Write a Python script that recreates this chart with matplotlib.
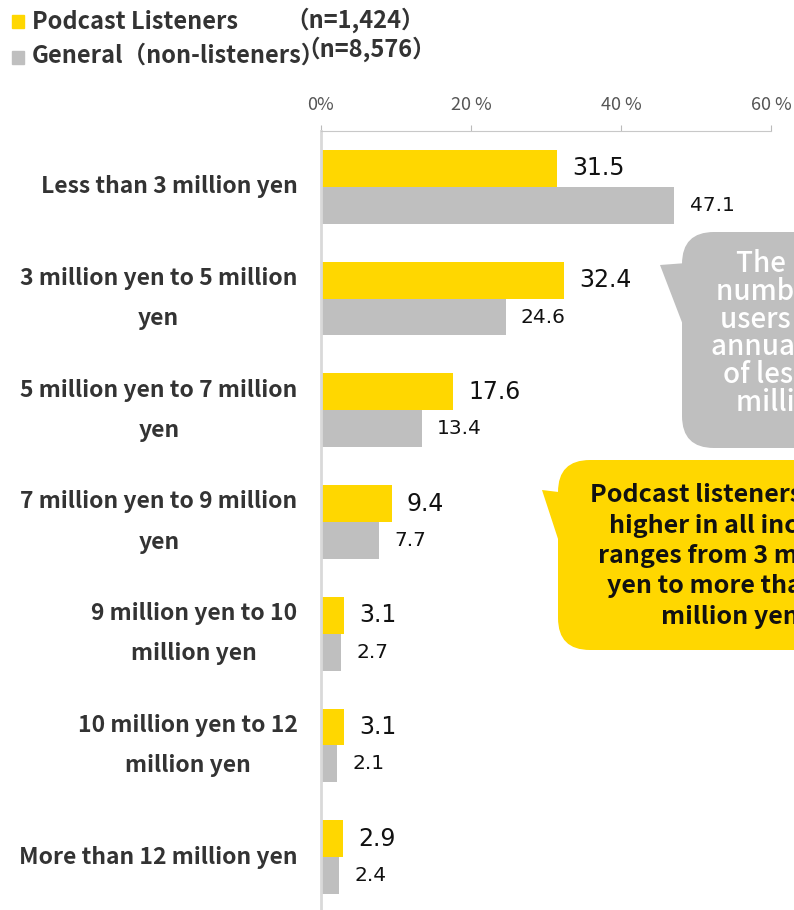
import matplotlib.pyplot as plt
from matplotlib.patches import FancyBboxPatch, Polygon

plt.rcParams['font.family'] = ['Noto Sans CJK JP', 'DejaVu Sans']

# income brackets and share of respondents (%)
categories = [
    'Less than 3 million yen',
    '3 million yen to 5 million\nyen',
    '5 million yen to 7 million\nyen',
    '7 million yen to 9 million\nyen',
    '9 million yen to 10\nmillion yen',
    '10 million yen to 12\nmillion yen',
    'More than 12 million yen',
]
listeners = [31.5, 32.4, 17.6, 9.4, 3.1, 3.1, 2.9]
general = [47.1, 24.6, 13.4, 7.7, 2.7, 2.1, 2.4]
xticks = [0, 20, 40, 60]

YELLOW = '#FFD700'
GREY = '#BFBFBF'
W, H = 794, 910

fig = plt.figure(figsize=(W / 100, H / 100), dpi=100)
ax = fig.add_axes([321 / W, 1 - 913 / H, 450 / W, 782 / H])

ypos = list(range(len(categories)))
bh = 0.33
ax.barh([y - bh / 2 for y in ypos], listeners, height=bh, color=YELLOW)
ax.barh([y + bh / 2 for y in ypos], general, height=bh, color=GREY)

for y, v in zip(ypos, listeners):
    ax.annotate(f'{v:.1f}', (v, y - bh / 2), xytext=(11, 0), textcoords='offset points',
                va='center', ha='left', fontsize=17, family='DejaVu Sans', color='#111111')
for y, v in zip(ypos, general):
    ax.annotate(f'{v:.1f}', (v, y + bh / 2), xytext=(11, 0), textcoords='offset points',
                va='center', ha='left', fontsize=14.5, family='DejaVu Sans', color='#111111')

ax.set_xlim(0, 60)
ax.set_ylim(len(categories) - 0.5, -0.5)
ax.xaxis.tick_top()
ax.set_xticks(xticks)
ax.set_xticklabels([f'{t}%' if t == 0 else f'{t} %' for t in xticks], fontsize=13, color='#555555')
ax.tick_params(axis='x', length=4, color='#BBBBBB', pad=8)
ax.set_yticks(ypos)
ax.set_yticklabels(categories, fontsize=16.5, fontweight='bold', color='#333333',
                   multialignment='center', linespacing=1.95)
for lbl in ax.get_yticklabels():
    lbl.set_va('center')
ax.tick_params(axis='y', length=0, pad=17)
for s in ['right', 'bottom']:
    ax.spines[s].set_visible(False)
ax.spines['top'].set_color('#C8C8C8')
ax.spines['left'].set_color('#D9D9D9')
ax.spines['left'].set_linewidth(2)

# legend block
fig.patches.append(plt.Rectangle((12 / W, 1 - 28 / H), 12 / W, 13 / H,
                                 transform=fig.transFigure, color=YELLOW))
fig.patches.append(plt.Rectangle((12 / W, 1 - 64 / H), 12 / W, 13 / H,
                                 transform=fig.transFigure, color=GREY))
fig.text(32 / W, 1 - 22 / H, 'Podcast Listeners', fontsize=17, fontweight='bold',
         color='#333333', va='center')
fig.text(32 / W, 1 - 56 / H, 'General（non-listeners）', fontsize=17, fontweight='bold',
         color='#333333', va='center')
fig.text(285 / W, 1 - 20 / H, '（n=1,424）', fontsize=17, fontweight='bold',
         color='#333333', va='center')
fig.text(296 / W, 1 - 49 / H, '（n=8,576）', fontsize=17, fontweight='bold',
         color='#333333', va='center')

# callout bubbles on a pixel-space overlay
ov = fig.add_axes([0, 0, 1, 1], zorder=5)
ov.set_xlim(0, W)
ov.set_ylim(H, 0)
ov.axis('off')

ov.add_patch(FancyBboxPatch((682, 232), 260, 216, boxstyle='round,pad=0,rounding_size=32',
                            fc=GREY, ec='none'))
ov.add_patch(Polygon([(660, 265), (700, 262), (700, 325), (683, 325)], fc=GREY, ec='none'))
ov.text(810, 333, 'The largest\nnumber of the\nusers have an\nannual income\nof less than 3\nmillion yen',
        ha='center', va='center', fontsize=20, fontweight='medium', color='white',
        linespacing=0.95)

ov.add_patch(FancyBboxPatch((558, 460), 360, 190, boxstyle='round,pad=0,rounding_size=32',
                            fc=YELLOW, ec='none'))
ov.add_patch(Polygon([(542, 490), (575, 494), (575, 545), (560, 545)], fc=YELLOW, ec='none'))
ov.text(730, 556, 'Podcast listeners were\nhigher in all income\nranges from 3 million\nyen to more than 12\nmillion yen',
        ha='center', va='center', fontsize=18, fontweight='bold', color='#111111',
        linespacing=1.33)

fig.savefig('out.png', dpi=100)
